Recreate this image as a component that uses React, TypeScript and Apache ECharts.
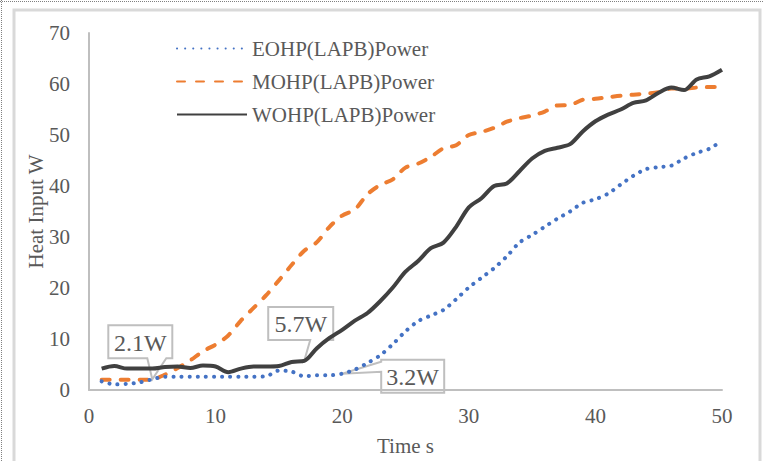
import { useEffect, useRef } from 'react';
import * as echarts from 'echarts';

const time = [1,2,3,4,5,6,7,8,9,10,11,12,13,14,15,16,17,18,19,20,21,22,23,24,25,26,27,28,29,30,31,32,33,34,35,36,37,38,39,40,41,42,43,44,45,46,47,48,49,50];
const eohp = [1.7,1.1,1.2,1.5,2.1,2.6,2.6,2.6,2.6,2.6,2.6,2.6,2.6,2.7,3.8,3.6,2.7,2.9,2.9,3.2,4.0,5.3,6.8,9.0,11.5,13.5,14.6,15.7,17.8,20.1,22.0,23.9,26.2,28.9,30.4,32.0,33.6,35.0,36.7,37.4,38.5,40.3,42.0,43.3,43.7,44.0,45.4,46.5,47.3,48.9];
const mohp = [2.0,2.0,2.0,2.0,2.1,3.0,4.3,5.8,7.6,8.9,10.7,13.6,16.1,18.6,21.5,24.5,27.3,29.0,32.0,34.2,35.4,38.4,40.2,41.3,43.6,44.4,45.7,47.4,48.0,50.0,50.6,51.4,52.6,53.3,53.8,54.6,55.8,55.9,56.9,57.1,57.4,57.7,57.9,58.1,58.4,59.1,59.1,59.3,59.4,59.4];
const wohp = [4.2,4.7,4.2,4.2,4.2,4.5,4.6,4.3,4.8,4.6,3.5,4.2,4.6,4.6,4.7,5.5,5.7,8.2,10.2,11.8,13.6,15.1,17.4,20.1,23.2,25.3,27.8,28.9,32.0,35.8,37.6,40.0,40.5,42.9,45.4,46.9,47.5,48.2,50.7,52.7,54.0,55.0,56.3,56.8,58.3,59.3,58.8,60.9,61.5,62.8];
const seriesNames = ['EOHP(LAPB)Power', 'MOHP(LAPB)Power', 'WOHP(LAPB)Power'];
const calloutTimes = [5, 17, 20];
const calloutValues = [2.1, 5.7, 3.2];
const calloutTexts = ['2.1W', '5.7W', '3.2W'];

const FONT = 'Liberation Serif';
const TXT = '#595959';

// callout layout: box [x, y, w, h] relative to the point; pointer side & base
const calloutLayouts = [
  { box: [-44, -54, 64, 33], side: 'bottom', base: [-5, 14] },
  { box: [-36, -54, 65, 33], side: 'bottom', base: [6, 23] },
  { box: [39, -14, 63, 33], side: 'left', base: [-12, -2] },
];

export default function App() {
  const ref = useRef<HTMLDivElement>(null);
  useEffect(() => {
    document.body.style.margin = '0';
    const chart = echarts.init(ref.current!, null, { renderer: 'svg' });
    const mk = (vals: number[]) => time.map((t, i) => [t, vals[i]]);
    chart.setOption({
      animation: false,
      backgroundColor: '#ffffff',
      grid: { left: 89, right: 41, top: 33, bottom: 64 },
      legend: {
        orient: 'vertical',
        left: 176,
        top: 38,
        padding: 0,
        itemWidth: 70,
        itemHeight: 14,
        itemGap: 12,
        itemStyle: { opacity: 0 },
        textStyle: { fontFamily: FONT, fontSize: 21, color: TXT },
        data: seriesNames,
      },
      xAxis: {
        type: 'value',
        min: 0,
        max: 50,
        interval: 10,
        name: 'Time s',
        nameLocation: 'middle',
        nameGap: 45,
        nameTextStyle: { fontFamily: FONT, fontSize: 21, color: TXT },
        axisLine: { lineStyle: { color: '#bfbfbf', width: 2 } },
        axisTick: { show: false },
        splitLine: { show: false },
        axisLabel: { fontFamily: FONT, fontSize: 21, color: TXT, margin: 15 },
      },
      yAxis: {
        type: 'value',
        min: 0,
        max: 70,
        interval: 10,
        name: 'Heat Input W',
        nameLocation: 'middle',
        nameGap: 43,
        nameMoveOverlap: false,
        nameTextStyle: { fontFamily: FONT, fontSize: 21, color: TXT },
        axisLine: { show: true, lineStyle: { color: '#bfbfbf', width: 2 } },
        axisTick: { show: false },
        splitLine: { show: false },
        axisLabel: { fontFamily: FONT, fontSize: 21, color: TXT, margin: 19 },
      },
      series: [
        {
          name: seriesNames[0], type: 'line', smooth: 0.3, showSymbol: false, symbol: 'none',
          data: mk(eohp), z: 3,
          lineStyle: { color: '#4472C4', width: 4, type: [0.1, 8], cap: 'round' },
          itemStyle: { color: '#4472C4' },
        },
        {
          name: seriesNames[1], type: 'line', smooth: 0.3, showSymbol: false, symbol: 'none',
          data: mk(mohp), z: 2,
          lineStyle: { color: '#ED7D31', width: 4, type: [8, 11], cap: 'round' },
          itemStyle: { color: '#ED7D31' },
        },
        {
          name: seriesNames[2], type: 'line', smooth: 0.3, showSymbol: false, symbol: 'none',
          data: mk(wohp), z: 4,
          lineStyle: { color: '#404040', width: 4, type: 'solid' },
          itemStyle: { color: '#404040' },
        },
      ],
    });

    const callouts = calloutTimes.map((t, i) => {
      const [px, py] = chart.convertToPixel({ gridIndex: 0 }, [t, calloutValues[i]]) as number[];
      const L = calloutLayouts[i];
      const [bx, by, bw, bh] = L.box;
      let pts: number[][];
      if (L.side === 'bottom') {
        pts = [[bx, by], [bx + bw, by], [bx + bw, by + bh], [L.base[1], by + bh], [0, 0], [L.base[0], by + bh], [bx, by + bh]];
      } else {
        pts = [[bx, by], [bx + bw, by], [bx + bw, by + bh], [bx, by + bh], [bx, L.base[1]], [0, 0], [bx, L.base[0]]];
      }
      return {
        type: 'group',
        x: px,
        y: py,
        z: 100,
        children: [
          { type: 'polygon', shape: { points: pts }, style: { fill: '#ffffff', stroke: '#bfbfbf', lineWidth: 2 } },
          {
            type: 'text',
            x: bx + bw / 2,
            y: by + bh / 2 + 1,
            style: { text: calloutTexts[i], fontFamily: FONT, fontSize: 24, fill: TXT, align: 'center', verticalAlign: 'middle' },
          },
        ],
      };
    });

    chart.setOption({
      graphic: [
        { type: 'rect', shape: { x: 14, y: 10, width: 746, height: 460 }, style: { fill: 'none', stroke: '#d9d9d9', lineWidth: 3 }, z: -1 },
        { type: 'line', shape: { x1: 0, y1: 1.5, x2: 763, y2: 1.5 }, style: { stroke: '#808080', lineWidth: 1, lineDash: [1, 1] } },
        { type: 'line', shape: { x1: 1.5, y1: 0, x2: 1.5, y2: 461 }, style: { stroke: '#808080', lineWidth: 1, lineDash: [1, 1] } },
        ...callouts,
      ],
    });
    return () => chart.dispose();
  }, []);
  return <div ref={ref} style={{ width: 763, height: 461 }} />;
}
